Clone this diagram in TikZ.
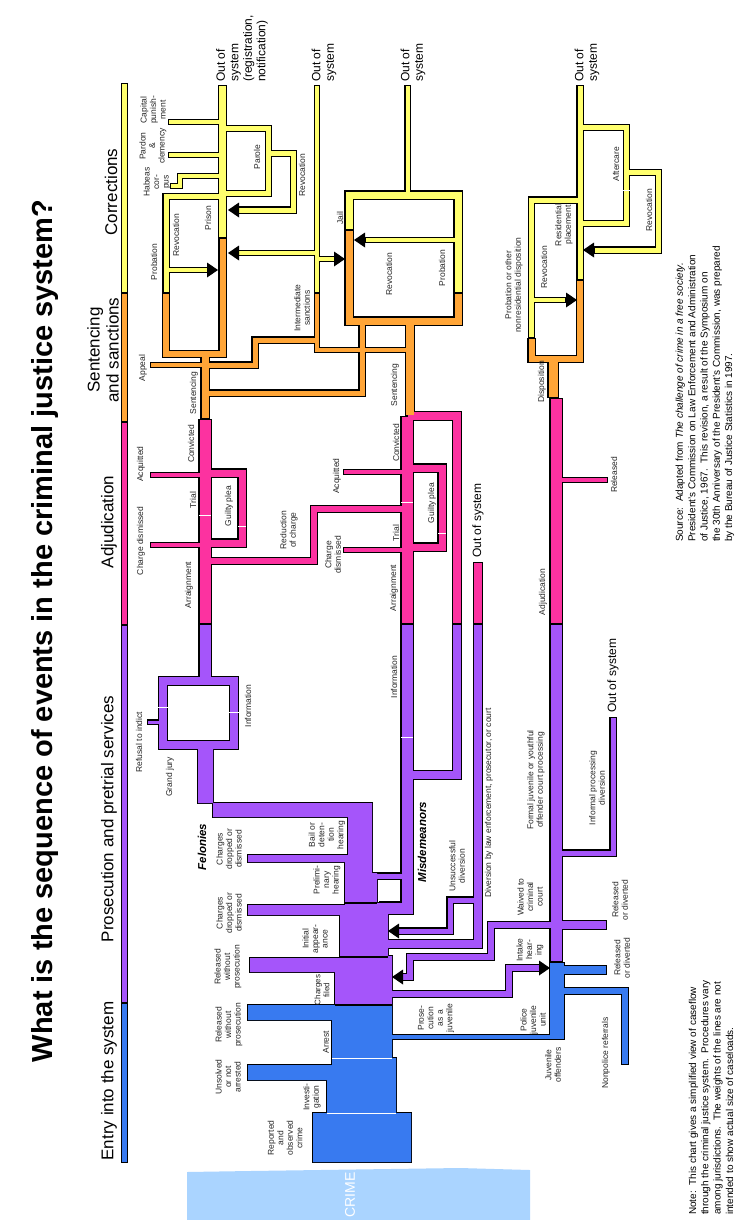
\documentclass[tikz,border=0pt]{standalone}
\usepackage{fontspec}
\setmainfont{Liberation Sans}

\definecolor{entryblue}{RGB}{56,122,240}
\definecolor{prospurple}{RGB}{165,85,250}
\definecolor{adjpink}{RGB}{252,50,160}
\definecolor{sentorange}{RGB}{255,165,55}
\definecolor{corryellow}{RGB}{255,255,110}
\definecolor{crimeblue}{RGB}{170,212,255}

% two passes: black rims first, then the colours on top
\newcommand{\outpipe}[3]{\draw[line width=#2+2.4] #3;}
\newcommand{\inpipe}[3]{\draw[#1, line width=#2, shorten <=1.2pt, shorten >=1.2pt] #3;}
\newcommand{\outloop}[3]{\draw[line width=#2+2.4] #3;}
\newcommand{\inloop}[3]{\draw[#1, line width=#2] #3;}
\newcommand{\outblock}[2]{\draw[line width=2.4] #2;}
\newcommand{\inblock}[2]{\fill[#1] #2;}
\newcommand{\headL}[2]{\fill (#1,#2) -- ++(11,-7.5) -- ++(0,15) -- cycle;}
\newcommand{\headR}[2]{\fill (#1,#2) -- ++(-11,-7.5) -- ++(0,15) -- cycle;}

\newcommand{\caseflow}{%
% stage bar
\pp{corryellow}{5}{(124.5,83) -- (124.5,293)}
\pp{sentorange}{5}{(124.5,293) -- (124.5,422)}
\pp{adjpink}{5}{(124.5,422) -- (124.5,625)}
\pp{prospurple}{5}{(124.5,625) -- (124.5,1003)}
\pp{entryblue}{5}{(124.5,1003) -- (124.5,1163)}
% entry into the system
\blk{entryblue}{(313,1162) -- (411,1162) -- (411,1113) -- (396,1113) -- (396,1058) -- (392,1058) -- (392,1005) -- (248,1005) -- (248,1020) -- (332,1020) -- (332,1065) -- (248,1065) -- (248,1080) -- (327,1080) -- (327,1113) -- (313,1113) -- cycle}
\pp{entryblue}{4}{(390,1037) -- (557,1037)}
\pp{entryblue}{14}{(557,1040) -- (557,962)}
\pp{entryblue}{8}{(557,970) -- (607,970)}
\pp{entryblue}{6}{(557,991) -- (625,991) -- (625,1065)}
% prosecution and pretrial services
\blk{prospurple}{(392,1005) -- (335,1005) -- (335,972) -- (250,972) -- (250,958) -- (340,958) -- (340,915) -- (248,915) -- (248,905) -- (345,905) -- (345,862) -- (248,862) -- (248,855) -- (348,855) -- (348,817) -- (213,817) -- (213,745) -- (198,745) -- (198,803) -- (372,803) -- (372,873) -- (377,873) -- (377,903) -- (388,903) -- (388,956) -- (392,956) -- cycle}
\lp{prospurple}{8}{(163,681) rectangle (234,745)}
\pp{prospurple}{3}{(163,722) -- (147,722)}
\pp{prospurple}{11}{(205,681) -- (205,624)}
\pp{prospurple}{11}{(379,908) -- (407,908) -- (407,624)}
\pp{prospurple}{5}{(372,876) -- (407,876)}
\pp{prospurple}{8}{(407,775) -- (457,775) -- (457,624)}
\pp{prospurple}{8}{(384,944) -- (478,944) -- (478,624)}
\pp{prospurple}{5}{(478,900) -- (450,900) -- (450,931) -- (398,931)}
\pp{prospurple}{6}{(556,925) -- (491,925) -- (491,957) -- (410,957) -- (410,977) -- (402,977)}
\pp{prospurple}{8}{(556,925) -- (607,925)}
\pp{prospurple}{6}{(386,994) -- (509,994) -- (509,968) -- (540,968)}
\pp{prospurple}{11}{(556,962) -- (556,624)}
\pp{prospurple}{5}{(556,853) -- (613,853) -- (613,717)}
% adjudication
\pp{adjpink}{11}{(205,624) -- (205,419)}
\pp{adjpink}{4}{(150,475) -- (205,475)}
\pp{adjpink}{4}{(150,545) -- (205,545)}
\pp{adjpink}{7}{(205,473) -- (242,473) -- (242,543) -- (205,543)}
\pp{adjpink}{6}{(205,561) -- (314,561) -- (314,509) -- (407,509)}
\pp{adjpink}{11}{(407,624) -- (407,416)}
\pp{adjpink}{8}{(457,624) -- (457,416) -- (407,416)}
\pp{adjpink}{4}{(343,472) -- (407,472)}
\pp{adjpink}{4}{(343,550) -- (407,550)}
\pp{adjpink}{7}{(407,468) -- (442,468) -- (442,547) -- (407,547)}
\pp{adjpink}{8}{(478,624) -- (478,562)}
\pp{adjpink}{11}{(556,624) -- (556,398)}
\pp{adjpink}{4}{(556,480) -- (608,480)}
% sentencing and sanctions
\pp{sentorange}{7}{(205,419) -- (205,354)}
\pp{sentorange}{4}{(150,365) -- (205,365)}
\pp{sentorange}{5}{(205,393) -- (362,393) -- (362,322)}
\pp{sentorange}{5}{(205,365) -- (255,365) -- (255,340) -- (317,340)}
\pp{sentorange}{4}{(317,293) -- (317,350) -- (410,350)}
\pp{sentorange}{8}{(410,416) -- (410,321)}
\pp{sentorange}{6}{(166,293) -- (166,354) -- (222.5,354) -- (222.5,238)}
\pp{sentorange}{7}{(349,230) -- (349,321) -- (458,321) -- (458,293)}
\pp{sentorange}{9}{(553,398) -- (553,359)}
\pp{sentorange}{6}{(531.5,338) -- (531.5,359) -- (580,359) -- (580,280)}
% corrections
\pp{corryellow}{5}{(166,293) -- (166,196.5) -- (222.5,196.5)}
\pp{corryellow}{7}{(222.5,238) -- (222.5,85)}
\pp{corryellow}{4}{(168,122) -- (222.5,122)}
\pp{corryellow}{4}{(168,155) -- (222.5,155)}
\pp{corryellow}{5}{(222.5,128.5) -- (268.5,128.5) -- (268.5,193.5) -- (222.5,193.5)}
\pp{corryellow}{5}{(268.5,153.5) -- (293.5,153.5) -- (293.5,210) -- (238,210)}
\pp{corryellow}{4}{(222.5,176) -- (180,176) -- (180,186) -- (170,186)}
\pp{corryellow}{4}{(166,270) -- (208,270)}
\pp{corryellow}{4}{(317,85) -- (317,293)}
\pp{corryellow}{4}{(238,253) -- (317,253)}
\pp{corryellow}{4}{(317,259) -- (335,259)}
\pp{corryellow}{7}{(349,230) -- (349,195) -- (458,195) -- (458,293)}
\pp{corryellow}{4}{(407.5,195) -- (407.5,85)}
\pp{corryellow}{4}{(458,240) -- (365,240)}
\pp{corryellow}{5}{(531.5,338) -- (531.5,200) -- (580,200)}
\pp{corryellow}{5}{(580,280) -- (580,85)}
\pp{corryellow}{4}{(531.5,300) -- (566,300)}
\pp{corryellow}{5}{(580,127.5) -- (626.5,127.5) -- (626.5,223.5) -- (580,223.5)}
\pp{corryellow}{5}{(626.5,172.5) -- (658.5,172.5) -- (658.5,250) -- (594,250)}
}

\begin{document}
\begin{tikzpicture}[x=1pt, y=-1pt, line join=miter,
    lbl/.style={rotate=90, align=center, inner sep=0pt, text=black!85,
      font=\fontsize{8.5}{9.5}\selectfont},
    stage/.style={rotate=90, align=center, inner sep=0pt,
      font=\fontsize{17}{19}\selectfont},
    outsys/.style={rotate=90, anchor=west, align=left, inner sep=0pt,
      font=\fontsize{12}{13.5}\selectfont},
    kind/.style={rotate=90, inner sep=0pt,
      font=\bfseries\itshape\fontsize{11.5}{13}\selectfont},
    notes/.style={rotate=90, anchor=west, align=left, inner sep=0pt,
      font=\fontsize{10}{12.3}\selectfont}
    ]
\useasboundingbox (0,0) rectangle (740,1220);
\fill[white] (0,0) rectangle (740,1220);
\fill[crimeblue] (187,1220) -- (187,1172) -- (250,1171) -- (390,1169) -- (460,1168) -- (530,1170) -- (530,1220) -- cycle;
\node[rotate=90, text=white, font=\fontsize{14}{14}\selectfont] (crime) at (350,1195) {CRIME};

\begin{scope}
\let\pp\outpipe \let\lp\outloop \let\blk\outblock
\caseflow
\end{scope}
\begin{scope}
\let\pp\inpipe \let\lp\inloop \let\blk\inblock
\caseflow
\end{scope}

% arrow heads
\headL{388}{931}
\headL{392}{977}
\headR{550}{968}
\headR{218}{270}
\headL{228}{210}
\headL{228}{253}
\headR{345}{259}
\headL{354}{240}
\headR{577}{300}
\headL{583}{250}

% seams
\draw[white, line width=1] (327,1113) -- (396,1113) (332,1058) -- (392,1058)
  (158,707) -- (168,707) (229,712) -- (239,712) (401,737) -- (413,737)
  (199,515) -- (211,515) (238,526) -- (246,526) (401,502) -- (413,502)
  (438,533) -- (446,533) (623,190) -- (630,190);
\draw[line width=1.2] (335,1005) -- (392,1005) (340,957) -- (388,957) (345,903) -- (377,903);

% titles
\node[rotate=90, font=\bfseries\fontsize{29}{31}\selectfont] (title) at (45,631)
  {What is the sequence of events in the criminal justice system?};
\node[stage] (sEntry) at (109,1081) {Entry into the system};
\node[stage] (sPros) at (109,819) {Prosecution and pretrial services};
\node[stage] (sAdj) at (109,522) {Adjudication};
\node[stage] (sSent) at (103,350) {Sentencing\\and sanctions};
\node[stage] (sCorr) at (111,192) {Corrections};

% entry
\node[lbl] (lRep) at (285,1138) {Reported\\and\\observed\\crime};
\node[lbl] (lInv) at (312,1097) {Investi-\\gation};
\node[lbl] (lUns) at (228,1077) {Unsolved\\or not\\arrested};
\node[lbl] (lArr) at (326,1042) {Arrest};
\node[lbl] (lRwp1) at (229,1025) {Released\\without\\prosecution};
\node[lbl] (lProsJ) at (436,1018) {Prose-\\cution\\as a\\juvenile};
\node[lbl] (lPolJ) at (533,1020) {Police\\juvenile\\unit};
\node[lbl] (lJuvO) at (553,1065) {Juvenile\\offenders};
\node[lbl] (lNonp) at (606,1053) {Nonpolice referrals};
\node[lbl] (lRod2) at (622,958) {Released\\or diverted};

% prosecution
\node[lbl, font=\fontsize{8}{9}\selectfont] (lChf) at (322,990) {Charges\\filed};
\node[lbl] (lRwp2) at (228,967) {Released\\without\\prosecution};
\node[lbl] (lCdd1) at (229,913) {Charges\\dropped or\\dismissed};
\node[lbl] (lIni) at (315,939) {Initial\\appear-\\ance};
\node[lbl] (lPre) at (327,880) {Prelimi-\\nary\\hearing};
\node[lbl] (lCdd2) at (229,849) {Charges\\dropped or\\dismissed};
\node[lbl] (lBail) at (327,835) {Bail or\\deten-\\tion\\hearing};
\node[kind] (lFel) at (202,847) {Felonies};
\node[kind] (lMis) at (422,842) {Misdemeanors};
\node[lbl] (lGj) at (170,777) {Grand jury};
\node[lbl] (lRti) at (139,742) {Refusal to indict};
\node[lbl] (lInf1) at (248,706) {Information};
\node[lbl] (lInf2) at (394,677) {Information};
\node[lbl] (lUsd) at (457,866) {Unsuccessful\\diversion};
\node[lbl] (lDiv) at (489,803) {Diversion by law enforcement, prosecutor, or court};
\node[lbl] (lFjp) at (536,780) {Formal juvenile or youthful\\offender court processing};
\node[lbl] (lIpd) at (597,788) {Informal processing\\diversion};
\node[lbl] (lWcc) at (530,897) {Waived to\\criminal\\court};
\node[lbl] (lRod1) at (620,900) {Released\\or diverted};
\node[lbl] (lIh) at (530,950) {Intake\\hear-\\ing};

% adjudication
\node[lbl] (lArg1) at (189,585) {Arraignment};
\node[lbl] (lCdis1) at (141,541) {Charge dismissed};
\node[lbl] (lTri1) at (193,500) {Trial};
\node[lbl] (lGp1) at (229,506) {Guilty plea};
\node[lbl] (lAcq1) at (141,464) {Acquitted};
\node[lbl] (lCon1) at (191,444) {Convicted};
\node[lbl] (lRed) at (289,530) {Reduction\\of charge};
\node[lbl] (lAcq2) at (337,476) {Acquitted};
\node[lbl] (lCdis2) at (333,555) {Charge\\dismissed};
\node[lbl] (lTri2) at (396,533) {Trial};
\node[lbl] (lGp2) at (432,503) {Guilty plea};
\node[lbl] (lArg2) at (394,588) {Arraignment};
\node[lbl] (lCon2) at (396,443) {Convicted};
\node[lbl] (lAdj) at (543,592) {Adjudication};
\node[lbl] (lRel) at (614,475) {Released};

% sentencing and corrections
\node[lbl] (lSen1) at (194,393) {Sentencing};
\node[lbl] (lSen2) at (395,385) {Sentencing};
\node[lbl] (lApp) at (143,368) {Appeal};
\node[lbl] (lDis) at (542,382) {Disposition};
\node[lbl] (lProb1) at (154,262) {Probation};
\node[lbl] (lRev1) at (176,235) {Revocation};
\node[lbl] (lPri) at (208,218) {Prison};
\node[lbl] (lHab) at (157,182) {Habeas\\cor-\\pus};
\node[lbl] (lPar) at (153,146) {Pardon\\\&\\clemency};
\node[lbl] (lCap) at (153,110) {Capital\\punish-\\ment};
\node[lbl] (lParole) at (257,157) {Parole};
\node[lbl] (lRev2) at (302,175) {Revocation};
\node[lbl] (lIms) at (302,308) {Intermediate\\sanctions};
\node[lbl] (lJail) at (340,218) {Jail};
\node[lbl] (lRev3) at (389,274) {Revocation};
\node[lbl] (lProb2) at (442,268) {Probation};
\node[lbl] (lPond) at (514,285) {Probation or other\\nonresidential disposition};
\node[lbl] (lRev4) at (544,267) {Revocation};
\node[lbl] (lRes) at (564,225) {Residential\\placement};
\node[lbl] (lAft) at (616,164) {Aftercare};
\node[lbl] (lRev5) at (649,210) {Revocation};

% out of system
\node[outsys] (os1) at (242,82) {Out of\\system\\(registration,\\notification)};
\node[outsys] (os2) at (324,82) {Out of\\system};
\node[outsys] (os3) at (413,82) {Out of\\system};
\node[outsys] (os4) at (587,82) {Out of\\system};
\node[outsys] (os5) at (478,558) {Out of system};
\node[outsys] (os6) at (613,713) {Out of system};

% notes
\node[notes] (source) at (705,542) {Source:\ \ Adapted from \textit{The challenge of crime in a free society.}\\
  President's Commission on Law Enforcement and Administration\\
  of Justice, 1967.\ \ This revision, a result of the Symposium on\\
  the 30th Anniversary of the President's Commission, was prepared\\
  by the Bureau of Justice Statistics in 1997.};
\node[notes] (note) at (711,1215) {Note:\ \ This chart gives a simplified view of caseflow\\
  through the criminal justice system.\ \ Procedures vary\\
  among jurisdictions.\ \ The weights of the lines are not\\
  intended to show actual size of caseloads.};
\end{tikzpicture}
\end{document}
